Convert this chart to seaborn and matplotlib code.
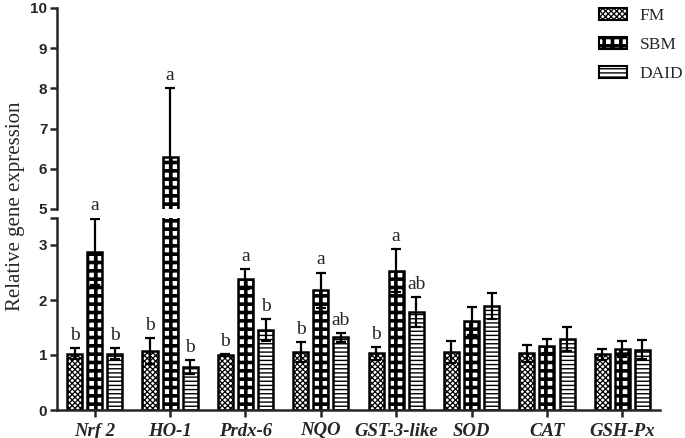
import matplotlib
matplotlib.use("Agg")
import matplotlib.pyplot as plt
import matplotlib.patches as mpatches
import seaborn as sns
import pandas as pd
import numpy as np

genes = ["Nrf 2", "HO-1", "Prdx-6", "NQO", "GST-3-like", "SOD", "CAT", "GSH-Px"]
groups = ["FM", "SBM", "DAID"]
fm = [1.02, 1.07, 1.00, 1.05, 1.03, 1.06, 1.03, 1.01]
fm_err = [0.10, 0.24, 0.02, 0.18, 0.12, 0.20, 0.15, 0.10]
sbm = [2.88, 6.30, 2.38, 2.18, 2.53, 1.62, 1.16, 1.11]
sbm_err = [0.60, 1.70, 0.18, 0.32, 0.39, 0.25, 0.13, 0.15]
daid = [1.02, 0.78, 1.45, 1.32, 1.78, 1.89, 1.29, 1.10]
daid_err = [0.10, 0.13, 0.20, 0.08, 0.27, 0.24, 0.22, 0.17]
fm_sig = ["b", "b", "b", "b", "b", "", "", ""]
sbm_sig = ["a", "a", "a", "a", "a", "", "", ""]
daid_sig = ["b", "b", "b", "ab", "ab", "", "", ""]

values = {"FM": fm, "SBM": sbm, "DAID": daid}
errors = {"FM": fm_err, "SBM": sbm_err, "DAID": daid_err}
sigs = {"FM": fm_sig, "SBM": sbm_sig, "DAID": daid_sig}
hatches = {"FM": "xxxxxx", "SBM": "++", "DAID": "----"}
hatch_lw = {"FM": 0.9, "SBM": 2.6, "DAID": 1.0}

rows = []
for g in groups:
    for gene, v in zip(genes, values[g]):
        rows.append({"gene": gene, "group": g, "value": v})
df = pd.DataFrame(rows)

sns.set_style("ticks")
plt.rcParams["font.family"] = ["Liberation Sans", "DejaVu Sans"]
plt.rcParams["hatch.linewidth"] = 1.0

W, H = 685, 438
fig = plt.figure(figsize=(W / 100, H / 100), dpi=100)
left = 57 / W
width = (660 - 57) / W
ax_top = fig.add_axes([left, 1 - 209 / H, width, (209 - 8) / H])
ax_bot = fig.add_axes([left, 1 - 410 / H, width, (410 - 217.5) / H])

serif = ["Liberation Serif", "DejaVu Serif"]

for ax in (ax_top, ax_bot):
    sns.barplot(data=df, x="gene", y="value", hue="group", order=genes,
                hue_order=groups, errorbar=None, width=0.8, gap=0.25,
                ax=ax, legend=False, edgecolor="black", linewidth=1.8,
                palette=["white"] * 3)
    for g, cont in zip(groups, ax.containers):
        for i, bar in enumerate(cont.patches):
            bar.set_facecolor("white")
            bar.set_edgecolor("black")
            bar.set_hatch(hatches[g])
            if hasattr(bar, "set_hatch_linewidth"):
                bar.set_hatch_linewidth(hatch_lw[g])
        xs = [b.get_x() + b.get_width() / 2 for b in cont.patches]
        ax.errorbar(xs, values[g], yerr=errors[g], fmt="none", ecolor="black",
                    elinewidth=1.6, capsize=3.5, capthick=1.6, zorder=5)
    ax.set_xlim(-0.5, len(genes) - 0.5)
    ax.set_xlabel("")
    ax.set_ylabel("")
    for s in ("top", "right"):
        ax.spines[s].set_visible(False)
    ax.spines["left"].set_linewidth(1.8)
    ax.spines["bottom"].set_linewidth(1.8)
    ax.tick_params(axis="both", direction="out", length=5, width=1.8,
                   labelsize=11, pad=2)

# upper segment
ax_top.set_ylim(5, 10)
ax_top.set_yticks([5, 6, 7, 8, 9, 10])
ax_top.set_yticklabels(["5", "6", "7", "8", "9", "10"], fontweight="bold", fontsize=11)
ax_top.spines["bottom"].set_visible(False)
ax_top.tick_params(axis="x", bottom=False, labelbottom=False)

# lower segment
ax_bot.set_ylim(0, 3.5)
ax_bot.set_yticks([0, 1, 2, 3, 3.5])
ax_bot.set_yticklabels(["0", "1", "2", "3", ""], fontweight="bold", fontsize=11)
ax_bot.set_xticks(range(len(genes)))
ax_bot.set_xticklabels(genes, family=serif, fontstyle="italic",
                       fontweight="bold", fontsize=13.5)
ax_bot.tick_params(axis="x", pad=4)

# significance letters
for g, cont in zip(groups, ax_bot.containers):
    for i, bar in enumerate(cont.patches):
        s = sigs[g][i]
        if not s:
            continue
        top = values[g][i] + errors[g][i]
        x = bar.get_x() + bar.get_width() / 2
        target = ax_top if top > 3.5 else ax_bot
        target.annotate(s, (x, top), xytext=(0, 3), textcoords="offset points",
                        ha="center", va="bottom", family=serif, fontsize=14)

fig.text(0.022, 1 - 206 / H, "Relative gene expression", rotation=90,
         ha="center", va="center", family=serif, fontsize=15)

handles = []
for g in groups:
    p = mpatches.Patch(facecolor="white", edgecolor="black", hatch=hatches[g],
                       linewidth=1.5, label=g)
    handles.append(p)
leg = fig.legend(handles=handles, loc="upper left",
                 bbox_to_anchor=(599 / W, 1 - 8 / H), frameon=False,
                 borderpad=0, borderaxespad=0, handlelength=1.6,
                 handleheight=0.65, handletextpad=0.75, labelspacing=0.75,
                 prop={"family": serif, "size": 12.5})
if hasattr(mpatches.Patch, "set_hatch_linewidth"):
    for g, h in zip(groups, leg.get_patches()):
        h.set_hatch_linewidth(hatch_lw[g])

fig.savefig("out.png", dpi=100)
